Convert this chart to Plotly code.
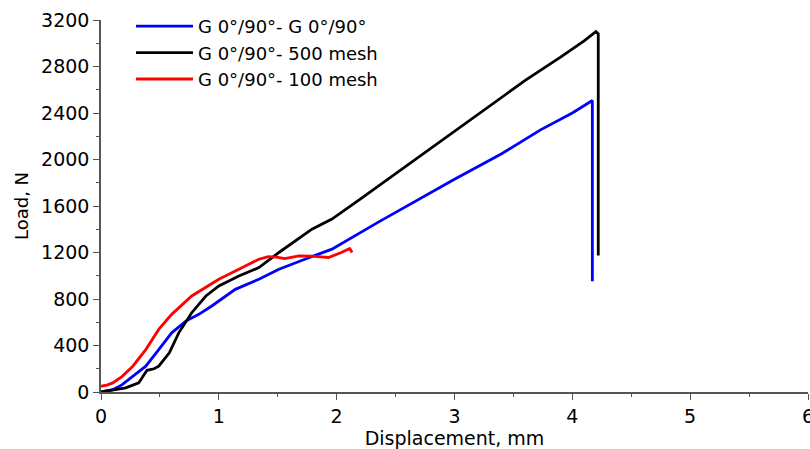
import plotly.graph_objects as go

# Data
blue_x = [0, 0.1, 0.18, 0.27, 0.33, 0.38, 0.49, 0.6, 0.72, 0.83, 0.94, 1.0, 1.14, 1.34, 1.51, 1.73,
          1.96, 2.35, 2.7, 3.0, 3.4, 3.73, 4.0, 4.17, 4.17]
blue_y = [0, 20, 63, 135, 185, 222, 365, 509, 610, 668, 740, 783, 883, 970, 1056, 1142,
          1229, 1459, 1660, 1830, 2050, 2255, 2400, 2507, 953]

black_x = [0, 0.1, 0.21, 0.32, 0.39, 0.45, 0.49, 0.58, 0.66, 0.77, 0.89, 1.0, 1.17, 1.34, 1.51,
           1.79, 1.96, 2.2, 2.5, 2.75, 3.0, 3.3, 3.6, 3.9, 4.1, 4.2, 4.22, 4.22]
black_y = [0, 14, 35, 78, 187, 200, 222, 337, 509, 682, 826, 912, 998, 1070, 1200,
           1401, 1488, 1660, 1880, 2060, 2240, 2460, 2680, 2880, 3020, 3100, 3080, 1175]

red_x = [0, 0.05, 0.1, 0.18, 0.27, 0.38, 0.49, 0.6, 0.77, 1.0, 1.17, 1.34, 1.42, 1.49, 1.56,
         1.68, 1.79, 1.93, 2.04, 2.11, 2.12, 2.13]
red_y = [49, 60, 78, 135, 222, 365, 538, 668, 826, 970, 1056, 1142, 1165, 1160, 1148,
         1171, 1168, 1157, 1200, 1235, 1220, 1200]

names = ["G 0°/90°- G 0°/90°", "G 0°/90°- 500 mesh", "G 0°/90°- 100 mesh"]
colors = ["#0000FF", "#000000", "#FF0000"]

fig = go.Figure()
for xs, ys, n, c in [(blue_x, blue_y, names[0], colors[0]),
                     (black_x, black_y, names[1], colors[1]),
                     (red_x, red_y, names[2], colors[2])]:
    fig.add_trace(go.Scatter(x=xs, y=ys, mode="lines", name=n,
                             line=dict(color=c, width=2.8)))

font = "DejaVu Sans, Verdana, sans-serif"
axis_common = dict(showgrid=False, zeroline=False, showline=True, linecolor="#555555",
                   linewidth=1.5, ticks="outside", ticklen=6, tickwidth=1.2, tickcolor="#555555",
                   tickfont=dict(family=font, size=19, color="#000000"), automargin=False,
                   ticklabeloverflow="allow",
                   minor=dict(ticks="outside", ticklen=3, tickwidth=1, tickcolor="#555555"))

fig.update_layout(
    width=810, height=449,
    margin=dict(l=101, r=2, t=20, b=57, autoexpand=False),
    paper_bgcolor="white", plot_bgcolor="white",
    font=dict(family=font, color="#000000"),
    xaxis=dict(range=[0, 6], dtick=1, minor_dtick=0.5,
               title=dict(text="Displacement, mm", font=dict(family=font, size=19), standoff=4),
               **axis_common),
    yaxis=dict(range=[0, 3200], dtick=400, minor_dtick=200,
               title=dict(text="Load, N", font=dict(family=font, size=18), standoff=8),
               **axis_common),
    legend=dict(x=30 / 707, y=1 + 12 / 372, xanchor="left", yanchor="top",
                bgcolor="rgba(0,0,0,0)", borderwidth=0, itemwidth=57,
                font=dict(family=font, size=18), tracegroupgap=0),
    showlegend=True,
)

fig.write_html("out.html", config={"displayModeBar": False},
               post_script="document.body.style.margin='0';")
